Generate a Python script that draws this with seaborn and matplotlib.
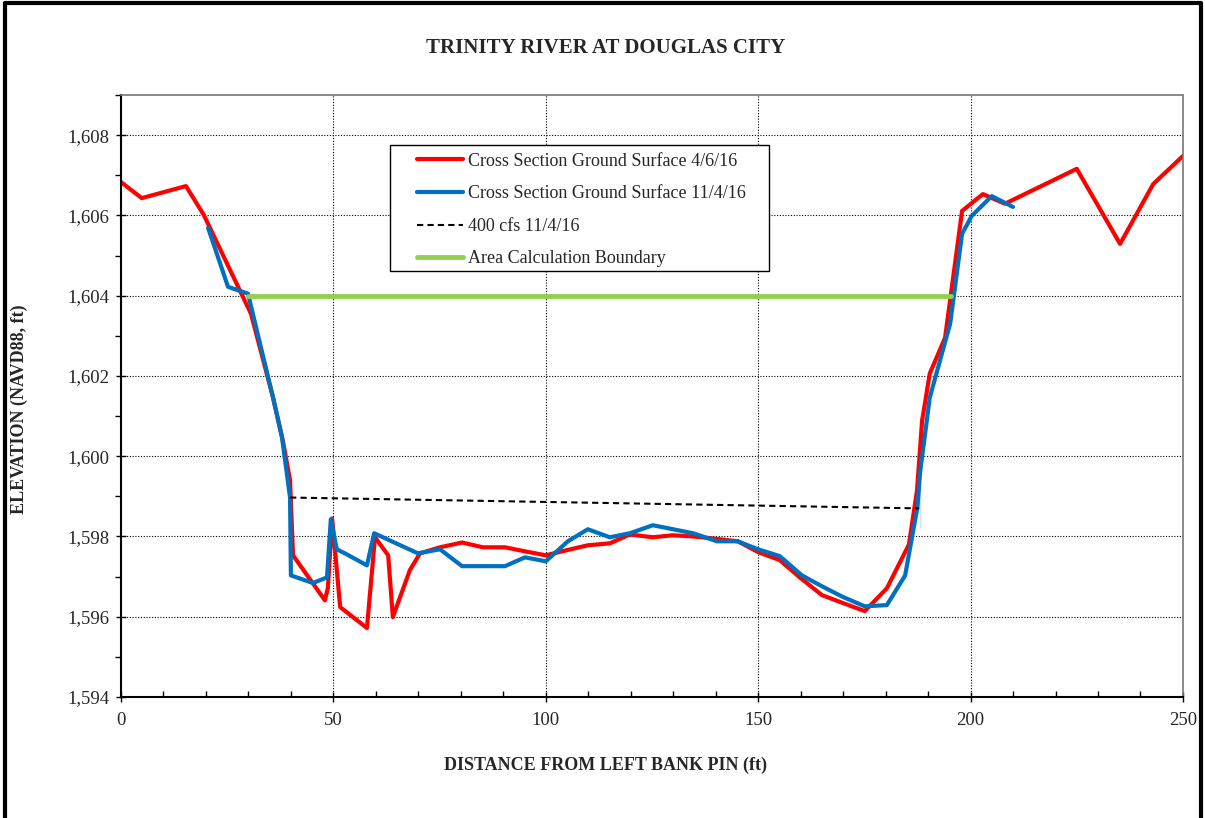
import numpy as np
import pandas as pd
import matplotlib
matplotlib.use("Agg")
import matplotlib.pyplot as plt
import seaborn as sns
from matplotlib.ticker import MultipleLocator, FuncFormatter
from matplotlib.patches import Rectangle

# cross section surveyed 4/6/16
dist_apr = [0, 4.9, 15.3, 19.5, 30.6, 35.8, 38.1, 39.8, 40.5, 48.0, 48.7, 49.7, 51.6,
            57.9, 59.8, 62.9, 64.0, 68.0, 70.4, 75.1, 80.3, 85.2, 90.4, 95.1, 100.0,
            105.0, 109.9, 115.1, 119.8, 125.2, 129.9, 134.7, 139.4, 145.2, 150.0,
            155.1, 159.8, 165.0, 170.0, 175.1, 180.3, 185.5, 187.4, 188.6, 190.4,
            194.0, 198.0, 202.9, 208.1, 225.0, 235.2, 243.0, 250.0]
elev_apr = [1606.83, 1606.43, 1606.73, 1606.01, 1603.55, 1601.46, 1600.39, 1599.40,
            1597.53, 1596.41, 1596.71, 1598.45, 1596.24, 1595.72, 1597.98, 1597.53,
            1595.99, 1597.16, 1597.58, 1597.73, 1597.85, 1597.73, 1597.73, 1597.63,
            1597.53, 1597.66, 1597.78, 1597.83, 1598.05, 1597.98, 1598.03, 1598.00,
            1597.95, 1597.88, 1597.61, 1597.41, 1596.98, 1596.54, 1596.34, 1596.14,
            1596.71, 1597.80, 1599.15, 1600.89, 1602.06, 1602.95, 1606.11, 1606.53,
            1606.29, 1607.16, 1605.29, 1606.78, 1607.48]

# cross section surveyed 11/4/16
dist_nov = [20.5, 25.2, 29.9, 33.7, 35.8, 37.9, 39.8, 40.0, 45.2, 48.5, 49.4, 50.8,
            52.7, 57.9, 59.6, 69.9, 75.1, 80.3, 90.4, 95.1, 100.0, 105.2, 109.9,
            115.1, 119.8, 125.2, 134.7, 140.3, 145.2, 150.0, 155.1, 160.3, 165.0,
            170.0, 175.1, 180.3, 184.6, 187.5, 188.1, 188.1, 190.4, 195.2, 198.0,
            200.3, 205.0, 210.0]
elev_nov = [1605.69, 1604.22, 1604.05, 1602.38, 1601.46, 1600.47, 1598.97, 1597.03,
            1596.84, 1596.98, 1598.43, 1597.68, 1597.58, 1597.28, 1598.08, 1597.58,
            1597.68, 1597.26, 1597.26, 1597.48, 1597.38, 1597.88, 1598.18, 1597.98,
            1598.08, 1598.28, 1598.08, 1597.88, 1597.88, 1597.68, 1597.51, 1597.03,
            1596.76, 1596.49, 1596.26, 1596.29, 1597.03, 1598.73, 1598.20, 1600.96,
            1601.46, 1603.30, 1605.54, 1605.99, 1606.48, 1606.21]

# water surface at 400 cfs
dist_ws = [39.8, 187.9]
elev_ws = [1598.97, 1598.70]

# area calculation boundary
dist_bound = [29.9, 195.4]
elev_bound = [1604.0, 1604.0]

sns.set_theme(style="white")
plt.rcParams['font.family'] = ['Liberation Serif', 'DejaVu Serif']
plt.rcParams['font.size'] = 13

fig = plt.figure(figsize=(12.05, 8.18), dpi=100)
ax = fig.add_axes([0.1004, 0.1479, 0.8813, 0.7360])

sns.lineplot(x=dist_apr, y=elev_apr, ax=ax, color='#ff0000', lw=3, sort=False,
             label='Cross Section Ground Surface 4/6/16')
sns.lineplot(x=dist_nov, y=elev_nov, ax=ax, color='#0070c0', lw=3, sort=False,
             label='Cross Section Ground Surface 11/4/16')
sns.lineplot(x=dist_ws, y=elev_ws, ax=ax, color='black', lw=1.5, sort=False,
             linestyle=(0, (3, 2)), label='400 cfs 11/4/16')
sns.lineplot(x=dist_bound, y=elev_bound, ax=ax, color='#92d050', lw=3.5, sort=False,
             label='Area Calculation Boundary')

ax.set_xlim(0, 250)
ax.set_ylim(1594, 1609)
ax.xaxis.set_major_locator(MultipleLocator(50))
ax.xaxis.set_minor_locator(MultipleLocator(10))
ax.set_yticks(np.arange(1594, 1609, 2))
ax.yaxis.set_minor_locator(MultipleLocator(1))
ax.yaxis.set_major_formatter(FuncFormatter(lambda v, p: f"{v:,.0f}"))
ax.grid(True, which='major', color='black', linestyle=(0, (1, 1.5)), lw=0.8)
ax.tick_params(axis='both', which='major', direction='inout', length=7, width=1,
               color='black', labelsize=13.5, pad=5)
ax.tick_params(axis='x', which='major', pad=7)
ax.tick_params(axis='x', which='minor', direction='in', length=4, width=1,
               color='black')
ax.tick_params(axis='y', which='minor', direction='out', length=4, width=1,
               color='black')
ax.tick_params(left=True, bottom=True, which='both')

for s in ['left', 'bottom']:
    ax.spines[s].set_color('black')
    ax.spines[s].set_linewidth(1.5)
for s in ['top', 'right']:
    ax.spines[s].set_color('#777777')
    ax.spines[s].set_linewidth(1.2)
    ax.spines[s].set_linestyle((0, (1, 1)))

ax.set_xlabel('')
ax.set_ylabel('')
fig.text(0.5025, 0.0648, 'DISTANCE FROM LEFT BANK PIN (ft)', ha='center', va='center',
         fontsize=13, fontweight='bold')
fig.text(0.016, 0.50, 'ELEVATION (NAVD88, ft)', ha='center', va='center',
         rotation=90, fontsize=13, fontweight='bold')
fig.text(0.5025, 0.941, 'TRINITY RIVER AT DOUGLAS CITY', ha='center', va='center',
         fontsize=15, fontweight='bold')

# legend without its own frame, box drawn separately for the wide side padding
leg = ax.legend(loc='upper left', bbox_to_anchor=(0.2787, 0.904), frameon=False,
                fontsize=13, handlelength=2.55, borderpad=0, labelspacing=0.86,
                handletextpad=0.25, borderaxespad=0)
ax.add_patch(Rectangle((0.2533, 0.7076), 0.3569, 0.2093, transform=ax.transAxes,
                       facecolor='white', edgecolor='black', lw=1.0, zorder=4))
leg.set_zorder(5)

# outer border of the chart image (top, left, right)
fig.add_artist(plt.Line2D([0.004, 0.004, 0.997, 0.997], [0.0, 0.996, 0.996, 0.0],
                          transform=fig.transFigure, color='black', lw=3))

fig.savefig('out.png', dpi=100)
